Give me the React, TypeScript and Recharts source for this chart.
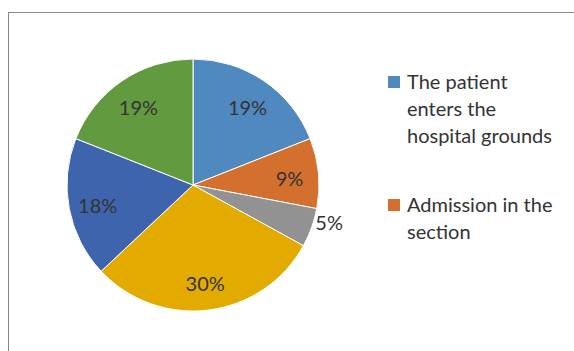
import { PieChart, Pie, Cell, Legend } from 'recharts';

const stages = [
  'The patient enters the hospital grounds',
  'Admission in the section',
  'Registration',
  'Examination',
  'Treatment',
  'Discharge',
];
const shares = [19, 9, 5, 30, 18, 19];
const colors = ['#4f89c0', '#d4702d', '#929292', '#e3ab00', '#3e64ad', '#629a3f'];

// the legend box in the original is cut off after two entries
const legendShown = 2;

const data = stages.map((name, i) => ({ name, value: shares[i] }));

const RAD = Math.PI / 180;
const font = "Lato, 'Liberation Sans', sans-serif";

const renderLabel = (props: any) => {
  const { cx, cy, midAngle, outerRadius, percent } = props;
  const small = percent < 0.07;
  const r = small ? outerRadius + 4 : outerRadius * 0.77;
  const x = cx + r * Math.cos(-midAngle * RAD);
  const y = cy + r * Math.sin(-midAngle * RAD);
  return (
    <text
      x={x}
      y={y - (small ? 7 : 0) + (small ? 0 : 2)}
      fill="#333"
      fontSize={20}
      fontFamily={font}
      textAnchor={small ? 'start' : 'middle'}
      dominantBaseline="central"
    >
      {`${Math.round(percent * 100)}%`}
    </text>
  );
};

const renderLegend = () => (
  <div style={{ fontFamily: font, fontSize: 20, color: '#333' }}>
    {stages.slice(0, legendShown).map((name, i) => (
      <div key={name} style={{ display: 'flex', alignItems: 'flex-start', marginBottom: 42 }}>
        <span
          style={{
            display: 'inline-block',
            width: 12,
            height: 12,
            background: colors[i],
            marginTop: 8,
            marginRight: 7,
            flexShrink: 0,
          }}
        />
        <span style={{ width: 156, lineHeight: '27px' }}>{name}</span>
      </div>
    ))}
  </div>
);

export default function App() {
  return (
    <div style={{ position: 'absolute', left: 0, top: 0, width: 574, height: 351, background: '#fff', overflow: 'hidden' }}>
      <div
        style={{
          position: 'absolute',
          left: 8,
          top: 12,
          width: 600,
          height: 400,
          borderLeft: '1px solid #888',
          borderTop: '1px solid #888',
        }}
      />
      <PieChart
        width={574}
        height={351}
        margin={{ top: 0, right: 0, bottom: 0, left: 0 }}
        style={{ position: 'absolute', left: 0, top: 0 }}
      >
        <Pie
          data={data}
          dataKey="value"
          nameKey="name"
          cx={193}
          cy={185}
          outerRadius={126}
          startAngle={90}
          endAngle={-270}
          stroke="#fff"
          strokeWidth={1}
          label={renderLabel}
          labelLine={false}
          isAnimationActive={false}
        >
          {data.map((d, i) => (
            <Cell key={d.name} fill={colors[i]} />
          ))}
        </Pie>
        <Legend
          layout="vertical"
          align="right"
          verticalAlign="top"
          content={renderLegend}
          wrapperStyle={{ left: 388, top: 68, width: 186 }}
        />
      </PieChart>
    </div>
  );
}
